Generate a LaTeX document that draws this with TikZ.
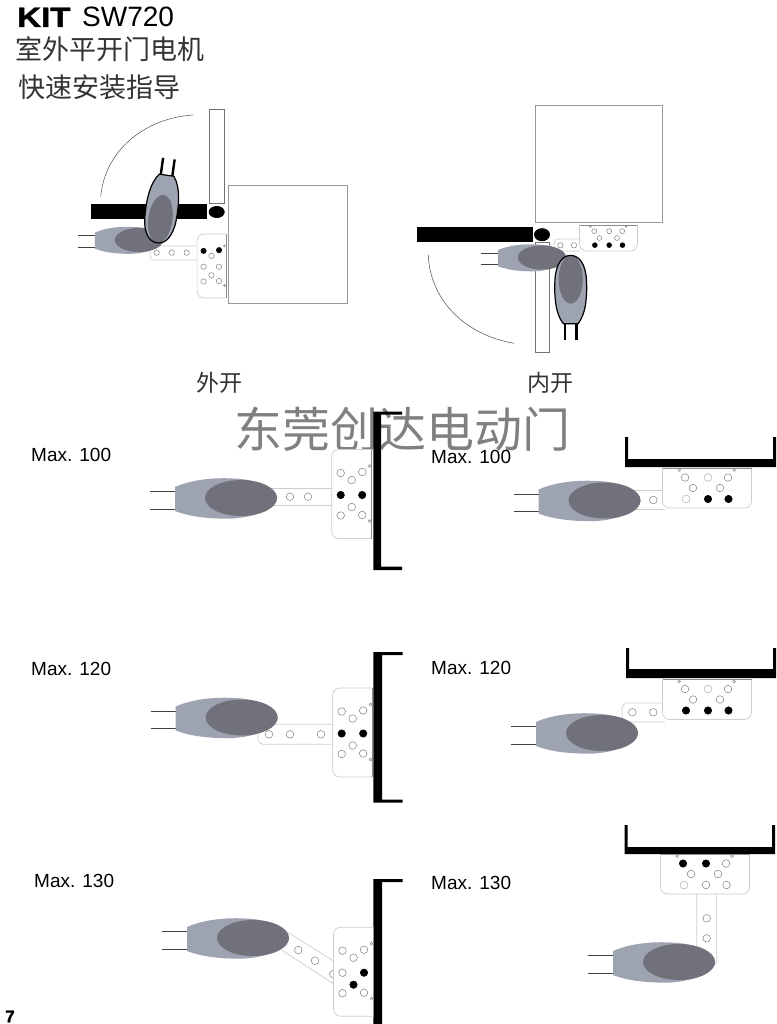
\documentclass[tikz,border=0pt]{standalone}
\usepackage{fontspec}
\setmainfont{Liberation Sans}[BoldFeatures={FakeBold=1.5}]
\newfontfamily\cjkfont{Noto Sans CJK SC}
\definecolor{motorlight}{RGB}{158,163,177}
\definecolor{motordark}{RGB}{112,113,122}
\definecolor{platelight}{RGB}{205,205,205}
\newcommand{\bodypath}{(-66,-11) .. controls (-48,-19) and (-25,-20.5) .. (-8,-19.5) .. controls (15,-19) and (36,-10) .. (36,0) .. controls (36,10) and (15,19) .. (-8,20.5) .. controls (-25,21) and (-48,20) .. (-66,13) -- cycle}
\newcommand{\closedpath}{(-66,-11) .. controls (-50,-24) and (-20,-24.5) .. (0,-23.5) .. controls (24,-22) and (36,-12) .. (36,0) .. controls (36,12) and (24,22) .. (0,23.5) .. controls (-20,24.5) and (-50,24) .. (-66,11) -- cycle}
\tikzset{
    wire-thin/.style={draw=black!75, line width=0.9pt},
    wire-thick/.style={draw=black, line width=2.4pt},
    plate-line/.style={draw=platelight, line width=0.7pt, fill=white},
    plate-edge/.style={draw=black!45, line width=0.7pt},
    room/.style={draw=black!40, line width=0.8pt, fill=white},
    leaf/.style={draw=black!55, line width=0.8pt, fill=white},
    swing/.style={draw=black!70, line width=0.5pt},
    hole/.style={draw=black!50, line width=0.5pt, fill=white},
    hole-faint/.style={draw=black!22, line width=0.5pt, fill=white},
    hole-black/.style={draw=black, fill=black, line width=0.5pt},
    big-cjk/.style={inner sep=0pt, font=\cjkfont\fontsize{27}{27}\selectfont, text=black!80},
    door-cjk/.style={inner sep=0pt, font=\cjkfont\fontsize{23}{23}\selectfont, text=black!80},
    stamp/.style={inner sep=0pt, font=\cjkfont\fontsize{48}{48}\selectfont, text=black!50},
    max-label/.style={anchor=west, inner sep=0pt, font=\fontsize{19}{19}\selectfont}
}
% x, y, rotation, scale
\newcommand{\motor}[4]{
    \begin{scope}[shift={(#1,#2)}, rotate=#3, scale=#4]
        \draw[wire-thin] (-91,-6.3) -- (-66,-6.3) (-91,11) -- (-66,11);
        \fill[motorlight] \bodypath;
        \fill[motordark] (0,0) ellipse (36 and 18);
    \end{scope}
}
% x, y, rotation, scale
\newcommand{\closedmotor}[4]{
    \begin{scope}[shift={(#1,#2)}, rotate=#3, scale=#4]
        \draw[wire-thick] (-91,-8.7) -- (-66,-8.7) (-91,8.7) -- (-66,8.7);
        \fill[motorlight] \closedpath;
        \fill[motordark] (0,0) ellipse (36 and 18);
        \draw[black, line width=1.2pt] \closedpath;
    \end{scope}
}
% x, y, rotation, scale, black holes, faint holes
\newcommand{\plate}[6]{
    \begin{scope}[shift={(#1,#2)}, rotate=#3, scale=#4]
        \fill[white] (-20,-44.5) rectangle (20,44.5);
        \draw[plate-line] (20,-44.5) [rounded corners=7] -- (-20,-44.5) -- (-20,44.5) [sharp corners] -- (20,44.5);
        \draw[plate-edge] (20,-44.5) -- (20,44.5);
        \foreach \hname/\hx/\hy in {a/-11/-21, b/0/-14, c/10.5/-22, d/-11/1, e/10.5/1, f/0/13, g/-11/21.5, h/10.5/21}{
            \coordinate (h-\hname) at (\hx,\hy);
            \draw[hole] (\hx,\hy) circle[radius=3.8];
        }
        \draw[hole] (18,-28) circle[radius=1.4] (18,27) circle[radius=1.4];
        \foreach \hname in {#6}{ \draw[hole-faint] (h-\hname) circle[radius=3.8]; }
        \foreach \hname in {#5}{ \draw[hole-black] (h-\hname) circle[radius=3.6]; }
    \end{scope}
}
\begin{document}
\begin{tikzpicture}[x=1pt, y=-1pt]
    \useasboundingbox (0,0) rectangle (776,1024);

    % title
    \path (17,27) node[anchor=base west, inner sep=0pt, xscale=1.18, font=\bfseries\fontsize{28}{28}\selectfont] (kit) {KIT};
    \path (82,27) node[anchor=base west, inner sep=0pt, font=\fontsize{28}{28}\selectfont] (sw720) {SW720};
    \path (109.5,49) node[big-cjk] (line-a) {室外平开门电机};
    \path (99,87) node[big-cjk] (line-b) {快速安装指导};
    \path (219,383) node[door-cjk] (door-out) {外开};
    \path (550,383) node[door-cjk] (door-in) {内开};
    \path (402,429) node[stamp] (maker) {东莞创达电动门};
    \path (5,1016.5) node[anchor=west, inner sep=0pt, font=\bfseries\fontsize{17}{17}\selectfont] (page) {7};

    \path (31,455) node[max-label] (max-a1) {Max. 100};
    \path (431,457) node[max-label] (max-b1) {Max. 100};
    \path (31,669) node[max-label] (max-a2) {Max. 120};
    \path (431,668) node[max-label] (max-b2) {Max. 120};
    \path (34,881) node[max-label] (max-a3) {Max. 130};
    \path (431,883) node[max-label] (max-b3) {Max. 130};

    % outward opening, plan view
    \draw[swing] (193.3,115) .. controls (145,118) and (105,150) .. (100.7,196.7);
    \draw[leaf] (209.3,109.3) rectangle (224,203.3);
    \draw[room] (228.3,185.3) rectangle (347.3,303.3);
    \fill[black] (91.3,204.3) rectangle (207.3,219);
    \fill[black] (216.7,212) ellipse (8 and 6);
    \draw[plate-line, rounded corners=4] (196,246) -- (150,246) -- (150,260) -- (196,260);
    \foreach \hx in {156.7,171.7,186.7}{ \draw[hole] (\hx,252.7) circle[radius=2.7]; }
    \plate{211.5}{266}{0}{.72}{a,c}{}
    \draw[room, fill=none] (228.3,185.3) -- (228.3,303.3);
    \motor{139}{240}{0}{.67}
    \closedmotor{160.4}{219}{-98}{.67}

    % inward opening, plan view
    \draw[swing] (428.3,255) .. controls (430,300) and (465,335) .. (514,343.3);
    \draw[room] (535,105.3) rectangle (662,222.7);
    \fill[black] (416.7,227) rectangle (532.7,242);
    \fill[black] (542,234.7) ellipse (8 and 6.5);
    \draw[leaf] (535.3,242.3) rectangle (549.7,352.7);
    \draw[plate-line, rounded corners=4] (580,239) -- (554,239) -- (554,251) -- (580,251);
    \foreach \hx in {560.3,574}{ \draw[hole] (\hx,245.3) circle[radius=2.7]; }
    \plate{608.5}{238}{90}{.65}{a,d,g}{}
    \motor{542}{257.5}{0}{.67}
    \closedmotor{570.7}{279.5}{90}{.67}

    % walls
    \fill[black] (373.3,411.5) -- (402,411.5) -- (402,414.5) -- (381,414.5) -- (381,566.5) -- (402,566.5) -- (402,570) -- (373.3,570) -- cycle;
    \fill[black] (373.3,652) -- (402.5,652) -- (402.5,655) -- (382,655) -- (382,799.5) -- (402.5,799.5) -- (402.5,802.5) -- (373.3,802.5) -- cycle;
    \fill[black] (373.3,879) -- (402.5,879) -- (402.5,882) -- (382,882) -- (382,1024) -- (373.3,1024) -- cycle;
    \fill[black] (625,437) -- (628,437) -- (628,459) -- (773,459) -- (773,437) -- (776,437) -- (776,467) -- (625,467) -- cycle;
    \fill[black] (626,648) -- (629,648) -- (629,669) -- (773,669) -- (773,648) -- (776,648) -- (776,678) -- (626,678) -- cycle;
    \fill[black] (624.5,825) -- (627.5,825) -- (627.5,847) -- (772,847) -- (772,825) -- (775,825) -- (775,854) -- (624.5,854) -- cycle;

    % left column
    \draw[plate-line] (332,488) -- (260,488) (260,505.7) -- (332,505.7);
    \foreach \hx in {290,308}{ \draw[hole] (\hx,496.7) circle[radius=3.8]; }
    \plate{351.7}{494}{0}{1}{d,e}{}
    \motor{241}{498}{0}{1}

    \draw[plate-line, rounded corners=5] (334,724.3) -- (258,724.3) -- (258,744.3) -- (334,744.3);
    \foreach \hx in {269,290,321}{ \draw[hole] (\hx,734.3) circle[radius=3.8]; }
    \plate{352.7}{732.5}{0}{1}{d,e}{}
    \motor{241.7}{717.5}{0}{1}

    \draw[plate-line] (286.7,931.7) -- (336,962.5) -- (336,985.5) -- (281.7,950);
    \foreach \hx/\hy in {298.3/950, 315/960.7, 333.3/974}{ \draw[hole] (\hx,\hy) circle[radius=3.8]; }
    \plate{353.5}{971.7}{0}{1}{e,f}{}
    \motor{253}{938}{0}{1}

    % right column
    \draw[plate-line] (665,490) -- (630,490) (630,509) -- (665,509);
    \draw[hole] (653.3,500) circle[radius=3.8];
    \plate{707}{488}{90}{1}{d,g}{a,e}
    \motor{604.5}{500.5}{0}{1}

    \draw[plate-line, rounded corners=5] (665,703) -- (622,703) -- (622,722) -- (665,722);
    \foreach \hx in {632.3,653.3}{ \draw[hole] (\hx,712.3) circle[radius=3.8]; }
    \plate{707}{699.5}{90}{1}{a,d,g}{e}
    \motor{602}{733}{0}{1}

    \draw[plate-line, rounded corners=5] (696.7,894) -- (696.7,966) -- (716.7,966) -- (716.7,894);
    \foreach \hy in {918.3,938.3}{ \draw[hole] (706.7,\hy) circle[radius=3.8]; }
    \plate{705}{874}{90}{1}{c,e}{a}
    \motor{679}{962}{0}{1}
\end{tikzpicture}
\end{document}
